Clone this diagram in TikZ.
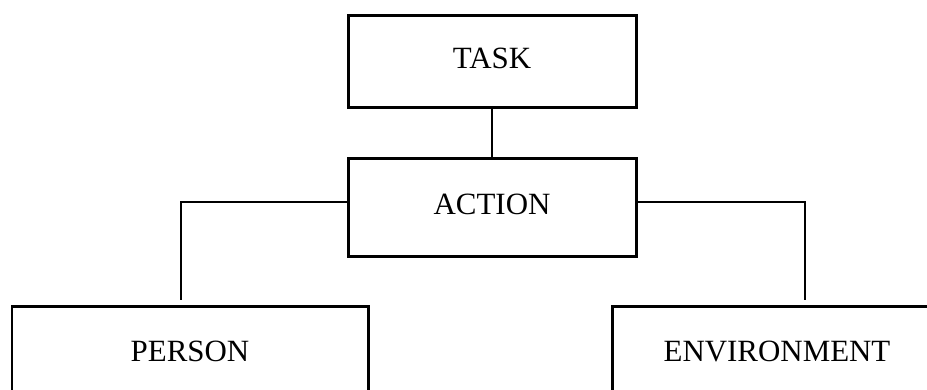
\documentclass[tikz,border=0pt]{standalone}
\usepackage{fontspec}
\setmainfont{Liberation Serif}
\usepackage{tikz}
\usetikzlibrary{positioning, calc}

\begin{document}
\begin{tikzpicture}[
    stagebox/.style={draw, line width=1.7pt, rectangle, inner sep=0pt, text depth=0.12cm,
      font=\fontsize{17.6}{20}\selectfont},
    link/.style={line width=1.1pt}
  ]
          \useasboundingbox (0,0) rectangle (18.54,-7.78);
          \clip (0,0) rectangle (18.54,-7.78);
          % boxes
          \node[stagebox, minimum width=5.76cm, minimum height=1.84cm] (task) at (9.84,-1.22) {TASK};
          \node[stagebox, minimum width=5.76cm, minimum height=1.96cm] (action) at (9.84,-4.14) {ACTION};
          \node[stagebox, minimum width=7.12cm, minimum height=1.92cm] (person) at (3.80,-7.08) {PERSON};
          \node[stagebox, minimum width=6.60cm, minimum height=1.92cm] (environment) at (15.54,-7.08) {ENVIRONMENT};
          % links
          \draw[link] (task.south) -- (action.north);
          \draw[link, shorten >=0.1cm] ([yshift=0.1cm]action.west) -| ([xshift=-0.18cm]person.north);
          \draw[link, shorten >=0.1cm] ([yshift=0.1cm]action.east) -| ([xshift=0.56cm]environment.north);
        \end{tikzpicture}
\end{document}
